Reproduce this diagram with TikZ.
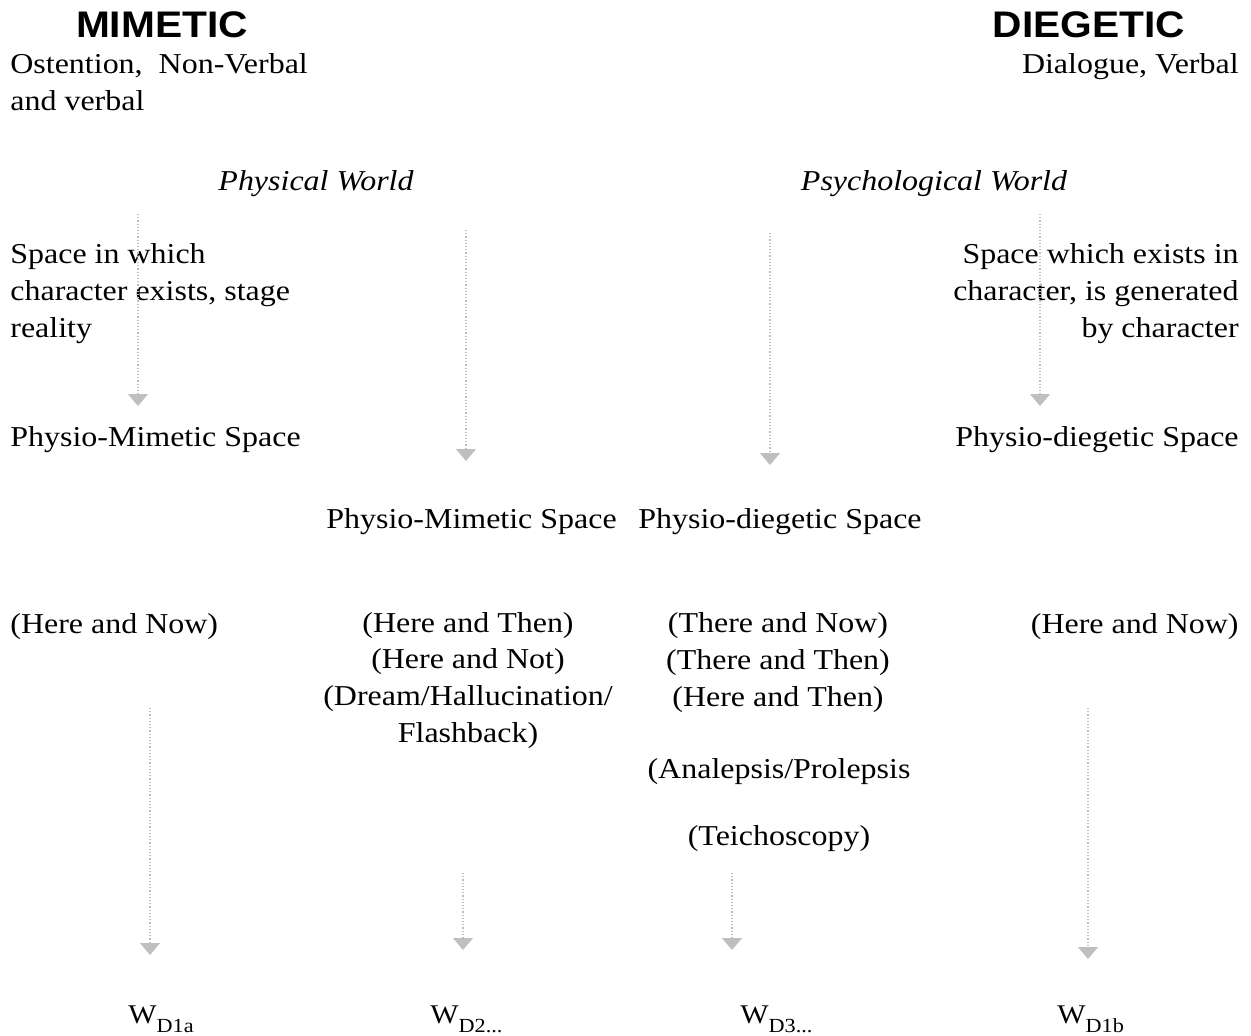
\documentclass[tikz,border=0pt]{standalone}
\usepackage{fontspec}
\setmainfont{Liberation Serif}[FakeStretch=1.11]
\newfontfamily\headfont{Liberation Sans}[FakeStretch=1.1]
\usetikzlibrary{arrows.meta}
\newcommand{\wlabel}[1]{W\raisebox{-4.5pt}{\fontsize{10}{12}\selectfont #1}}

\begin{document}
\begin{tikzpicture}[x=0.5pt, y=-0.5pt,
    txt/.style={inner sep=0pt, font=\fontsize{14.4}{18.3}\selectfont},
    world/.style={inner sep=0pt, font=\fontsize{14.4}{18.3}\selectfont\itshape},
    wnode/.style={inner sep=0pt, font=\fontsize{13.5}{16}\selectfont},
    head/.style={inner sep=0pt, font=\headfont\bfseries\fontsize{18.5}{22}\selectfont},
    flow/.style={draw=gray!50, densely dotted, line width=0.6pt, -{Triangle[width=10pt,length=6pt,color=gray!50]}}]
      \useasboundingbox (0,0) rectangle (1251,1035);
      % headings (multi-line nodes sit on their last baseline)
      \node[head, anchor=base] (mim) at (162,37) {MIMETIC};
      \node[head, anchor=base] (dieg) at (1089,37) {DIEGETIC};
      \node[txt, anchor=base west, align=left] (ost) at (10,110) {Ostention,~ Non-Verbal\\and verbal};
      \node[txt, anchor=base east] (dial) at (1239,73) {Dialogue, Verbal};
      \node[world, anchor=base] (phys) at (316,190) {Physical World};
      \node[world, anchor=base] (psych) at (934,190) {Psychological World};
      % spaces
      \node[txt, anchor=base west, align=left] (stage) at (10,337) {Space in which\\character exists, stage\\reality};
      \node[txt, anchor=base east, align=right] (inner) at (1239,337) {Space which exists in\\character, is generated\\by character};
      \node[txt, anchor=base west] (pmL) at (10,446) {Physio-Mimetic Space};
      \node[txt, anchor=base east] (pdR) at (1239,446) {Physio-diegetic Space};
      \node[txt, anchor=base west] (pmM) at (326,528) {Physio-Mimetic Space};
      \node[txt, anchor=base west] (pdM) at (638,528) {Physio-diegetic Space};
      % time and place
      \node[txt, anchor=base west] (hnL) at (10,633) {(Here and Now)};
      \node[txt, anchor=base, align=center] (then) at (468,742) {(Here and Then)\\(Here and Not)\\(Dream/Hallucination/\\Flashback)};
      \node[txt, anchor=base, align=center] (there) at (778,706) {(There and Now)\\(There and Then)\\(Here and Then)};
      \node[txt, anchor=base] (ana) at (779,778) {(Analepsis/Prolepsis};
      \node[txt, anchor=base] (teich) at (779,845) {(Teichoscopy)};
      \node[txt, anchor=base east] (hnR) at (1239,633) {(Here and Now)};
      % worlds
      \node[wnode, anchor=base west] (w1a) at (128,1023) {\wlabel{D1a}};
      \node[wnode, anchor=base west] (w2) at (430,1023) {\wlabel{D2...}};
      \node[wnode, anchor=base west] (w3) at (740,1023) {\wlabel{D3...}};
      \node[wnode, anchor=base west] (w1b) at (1057,1023) {\wlabel{D1b}};
      % arrow ends
      \coordinate (a1) at (138,214); \coordinate (b1) at (138,406);
      \coordinate (a2) at (466,230); \coordinate (b2) at (466,461);
      \coordinate (a3) at (770,233); \coordinate (b3) at (770,465);
      \coordinate (a4) at (1040,214); \coordinate (b4) at (1040,406);
      \coordinate (a5) at (150,708); \coordinate (b5) at (150,955);
      \coordinate (a6) at (463,873); \coordinate (b6) at (463,950);
      \coordinate (a7) at (732,873); \coordinate (b7) at (732,950);
      \coordinate (a8) at (1088,708); \coordinate (b8) at (1088,959);
      \draw[flow] (a1) -- (b1); \draw[flow] (a2) -- (b2); \draw[flow] (a3) -- (b3); \draw[flow] (a4) -- (b4);
      \draw[flow] (a5) -- (b5); \draw[flow] (a6) -- (b6); \draw[flow] (a7) -- (b7); \draw[flow] (a8) -- (b8);
    \end{tikzpicture}
\end{document}
